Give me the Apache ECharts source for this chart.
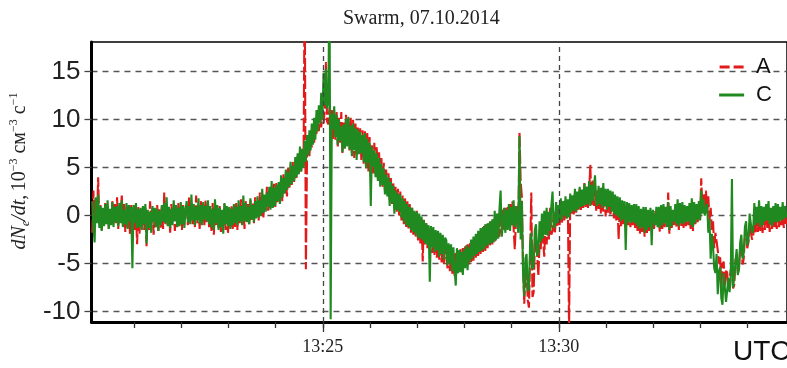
<!DOCTYPE html>
<html><head><meta charset="utf-8">
<script src="https://cdn.jsdelivr.net/npm/echarts@6/dist/echarts.min.js"></script>
<style>html,body{margin:0;padding:0;background:#fff}#c{width:787px;height:368px}</style>
</head><body><div id="c"></div>
<script>
// time grid: seconds after 13:20:00, first sample and sampling step
const T_START = 7;
const T_STEP = 1.5;
// axis extents (seconds after 13:20:00)
const X_MIN = 6, X_MAX = 890;
const Y_MIN = -11.1, Y_MAX = 18.1;
const minuteTicks = [60,120,180,240,300,360,420,480,540,600,660,720,780,840];
const labelTicks = [300, 600];
const tickLabels = {300: '13:25', 600: '13:30'};
const yTicks = [-10, -5, 0, 5, 10, 15];

// Swarm A, dNe/dt (10^-3 cm^-3 s^-1); one row = 30 s
const seriesA = [
 -1.8, 2.6, -1.2, 1.8, -0.6, 4.0, -0.9, 1.1, -1.5, 0.7, -1.1, 1.3, -0.8, 1.0, -1.4, 0.6, -1.0, 1.5, -0.7, 1.2,
 -0.8, 1.9, -1.4, 1.0, -0.6, 2.2, -1.1, 1.2, -1.7, 0.5, -1.3, 0.9, -2.0, 1.1, -0.9, 0.8, -1.5, 0.6, -3.0, 0.9,
 -1.9, 0.6, -1.2, 1.0, -1.5, 0.8, -3.2, 0.4, -1.5, 1.5, -1.0, 0.9, -2.0, 0.3, -1.2, 1.1, -1.6, 0.7, -1.3, 1.0,
 -1.4, 2.4, -0.9, 1.2, -1.0, 0.7, -1.8, 1.2, -0.7, 0.8, -1.6, 1.0, -1.2, 1.3, -0.8, 0.9, -1.5, 1.1, -1.0, 0.6,
 1.2, -1.0, 1.9, -0.4, 1.3, -0.9, 0.9, -1.2, 2.1, -0.8, 1.0, -1.4, 1.5, -0.6, 1.1, -1.0, 1.6, -0.7, 0.9, -1.2,
 0.7, -1.6, 1.3, -2.0, 0.9, -1.1, 0.5, -1.3, 1.0, -1.7, 0.6, -1.0, 1.2, -1.5, 0.8, -1.8, 0.6, -1.2, 1.0, -1.4,
 0.9, -1.2, 1.3, -1.5, 1.0, -0.8, 1.7, -0.9, 1.0, -1.4, 1.5, -0.3, 1.2, -0.9, 1.6, -0.6, 1.3, -0.8, 1.9, -0.2,
 1.6, -0.5, 2.4, 0.0, 1.9, -0.2, 2.0, 0.6, 3.0, 0.5, 2.6, 0.8, 2.9, 1.2, 3.3, 0.9, 3.4, 1.4, 3.1, 1.6,
 3.7, 1.5, 4.3, 2.3, 4.0, 2.0, 5.0, 2.9, 4.8, 3.2, 5.6, 3.5, 5.3, 3.8, 6.2, 4.4, 6.6, 4.6, 7.0, 5.2,
 25.0, -5.6, 6.4, 8.3, 6.2, 8.7, 7.1, 9.4, 7.6, 10.1, 8.5, 10.4, 8.8, 10.9, 9.2, 10.8, 9.6, 11.0, 16.0, 9.8,
 9.5, 11.3, 8.8, 11.0, 8.0, 10.6, 7.9, 10.8, 7.2, 10.2, 7.6, 10.8, 6.5, 9.7, 7.0, 10.5, 7.3, 9.9, 6.8, 10.2,
 6.5, 10.0, 6.0, 9.6, 6.4, 9.3, 6.8, 9.1, 5.8, 8.9, 5.4, 8.8, 5.0, 8.6, 4.6, 8.2, 4.0, 7.4, 4.4, 7.6,
 4.3, 7.2, 3.9, 6.6, 3.4, 6.0, 3.0, 5.5, 2.6, 4.8, 2.2, 4.4, 1.6, 3.9, 1.2, 3.5, 0.7, 3.0, 0.4, 2.8,
 0.0, 2.5, -0.5, 2.1, -0.9, 1.8, -1.2, 1.5, -1.5, 1.2, -1.8, 0.8, -2.0, 0.3, -2.3, 0.5, -2.6, 0.0, -2.9, -0.2,
 -4.8, -0.4, -3.0, -0.8, -3.4, -1.3, -3.6, -1.5, -3.9, -1.9, -4.1, -2.0, -4.4, -2.2, -4.6, -2.5, -4.9, -2.7, -5.1, -2.8,
 -3.0, -5.5, -3.3, -5.8, -3.6, -6.1, -4.0, -6.3, -3.8, -6.0, -3.7, -5.7, -3.5, -5.9, -3.4, -5.2, -3.2, -5.4, -3.0, -5.1,
 -2.9, -5.0, -2.6, -4.7, -2.3, -4.4, -2.0, -4.2, -1.7, -4.0, -1.4, -3.8, -1.1, -3.7, -0.9, -3.4, -0.8, -3.2, -0.6, -3.0,
 -0.4, -2.7, 0.0, -2.4, 0.3, -2.2, 0.5, -1.9, 0.6, -1.6, 0.8, -1.4, 0.9, -1.2, 1.2, -1.0, 1.5, -1.3, -3.5, -0.6,
 1.0, -1.0, 8.7, 3.5, 2.0, -5.0, -9.2, -6.5, -5.5, -8.8, -9.6, -4.0, 2.4, -8.5, -8.0, -3.0, -2.5, -4.2, -6.3, -3.0,
 -3.5, -0.8, -2.6, -4.3, -0.3, -3.0, -0.6, -2.5, 0.8, -2.0, -1.6, 0.4, -1.9, 0.2, -1.2, 1.0, -1.0, 0.6, -0.8, 1.2,
 -0.5, 1.5, -0.3, 1.2, -12.0, 1.8, 0.2, 1.6, 0.0, 2.4, 0.3, 2.2, 0.6, 2.8, 0.5, 2.6, 0.8, 3.4, 0.9, 3.0,
 0.8, 2.4, 5.3, 1.1, 3.8, 1.0, 3.4, 0.5, 2.6, 0.7, 2.3, 0.2, 2.9, 0.4, 2.5, -0.1, 2.2, 0.3, 2.0, 0.0,
 0.0, 2.0, -0.3, 1.7, -0.5, 1.4, -2.5, 1.2, -1.1, 1.0, -0.9, 0.9, -1.4, 0.8, -1.0, 0.7, -1.2, 0.6, -1.0, 0.8,
 -1.3, 0.5, -1.6, 0.4, -1.9, 0.2, -1.7, 0.3, -2.2, 0.4, -1.8, 0.1, -1.6, 0.3, -0.9, 0.2, -1.5, 0.5, -1.1, 0.3,
 0.4, -1.7, 0.6, -1.4, 0.8, -1.2, 0.5, -1.0, 2.4, -1.9, 0.6, -1.3, 0.2, -1.0, 0.7, -1.2, 1.1, -1.5, 0.8, -1.1,
 0.9, -1.3, 0.6, -1.1, 0.5, -1.0, 0.9, -1.4, 1.3, -1.6, 1.0, -0.9, 0.8, -0.7, 1.2, -0.4, 3.9, 0.6, 2.2, 0.8,
 2.6, 0.4, 2.0, -0.5, 0.8, -1.5, -0.6, -3.4, -1.8, -2.0, -3.6, -5.0, -4.2, -7.6, -5.1, -4.8, -7.4, -5.6, -6.0, -7.8,
 -7.7, -5.6, -5.9, -7.6, -7.2, -4.6, -4.3, -6.0, -5.4, -3.3, -3.0, -5.1, -4.5, -2.2, -1.6, -3.4, -2.8, -0.8, -0.9, -2.5,
 -2.2, -0.3, -1.9, 0.2, -1.7, 0.6, -1.6, -0.1, -1.8, 0.3, -1.5, 0.4, -1.3, 0.1, -1.7, 0.0, -1.4, 0.5, -1.2, -0.2,
 -1.4, 0.3, -1.2, 0.5, -1.0, 0.2, -1.3, 0.4, -0.9
];

// Swarm C
const seriesC = [
 1.5, -1.2, -2.8, 1.9, -0.8, 2.2, -1.3, 1.0, -1.6, 0.8, -1.1, 1.2, -0.9, 1.6, -1.4, 0.7, -1.0, 1.4, -1.2, 0.9,
 -0.7, 1.0, -1.1, 1.3, -0.8, 1.6, -1.2, 0.6, -0.9, 1.3, -1.4, 1.1, -0.6, 0.9, -5.5, 1.1, -0.8, 1.3, -1.3, 0.7,
 -1.2, 0.8, -1.5, 1.0, -0.9, 1.2, -2.9, 0.6, -1.3, 0.4, -1.8, 1.0, -0.7, 0.8, -1.2, 0.7, -1.6, 0.5, -1.0, 1.1,
 -0.6, 1.3, -0.8, 1.9, -1.1, 0.9, -1.3, 0.7, -1.0, 1.6, -0.6, 1.1, -1.2, 0.8, -1.1, 1.4, -0.9, 1.0, -1.3, 0.6,
 1.5, -0.7, 1.0, -0.9, 2.2, -0.5, 1.2, -1.0, 0.9, -0.5, 1.8, -0.8, 1.1, -1.0, 1.4, -0.4, 1.0, -0.6, 1.6, -0.9,
 1.0, -1.2, 0.7, -1.5, 1.7, -0.8, 1.1, -1.5, 0.8, -1.2, 0.6, -1.9, 1.3, -0.9, 1.0, -1.1, 0.9, -1.4, 0.7, -1.0,
 1.2, -0.8, 0.9, -1.0, 1.6, -0.6, 1.0, -1.0, 2.1, -0.6, 1.3, -0.7, 0.9, -0.9, 1.8, -0.4, 1.1, -0.7, 1.5, -0.3,
 2.0, -0.2, 1.6, 0.0, 2.8, 0.3, 2.2, 0.4, 2.4, 0.9, 3.0, 0.6, 3.6, 0.8, 2.9, 1.0, 3.2, 1.5, 3.5, 1.2,
 4.2, 1.9, 3.9, 2.3, 4.8, 2.7, 4.5, 3.0, 5.6, 3.3, 5.2, 3.6, 6.1, 4.0, 6.5, 4.3, 7.2, 4.6, 6.9, 5.0,
 7.8, 5.6, 8.4, 6.3, 8.9, 6.8, 9.6, 7.4, 10.2, 7.9, 11.0, 8.8, 11.5, 9.6, 12.8, 10.0, 14.9, 11.5, 15.3, 11.2,
 11.8, 25.0, -10.8, 10.6, 9.0, 11.4, 8.2, 10.5, 7.4, 10.0, 7.8, 9.3, 6.6, 9.5, 7.0, 10.1, 7.2, 10.3, 6.9, 9.4,
 6.2, 9.6, 6.8, 9.1, 5.8, 9.0, 6.4, 8.7, 6.5, 8.4, 5.6, 8.6, 4.9, 8.0, 5.5, 7.6, 1.0, 7.2, 5.1, 6.8,
 4.0, 6.5, 3.6, 6.0, 3.0, 5.4, 3.2, 4.9, 2.2, 4.3, 2.0, 4.0, 1.0, 3.5, 1.3, 3.1, 0.2, 2.6, 0.6, 2.3,
 0.4, 2.2, -0.2, 1.8, -0.6, 1.5, -1.0, 1.2, -1.2, 0.9, -1.5, 0.8, -1.7, 0.5, -2.0, 0.4, -2.3, 0.2, -2.4, -0.1,
 -2.6, -0.5, -2.9, -0.8, -3.1, -1.0, -6.9, -1.1, -3.3, -1.2, -3.8, -1.5, -3.6, -1.6, -4.3, -1.8, -4.0, -2.0, -4.6, -2.3,
 -2.6, -5.2, -2.9, -5.0, -3.0, -5.8, -3.3, -5.6, -7.3, -3.4, -6.0, -3.6, -5.9, -3.8, -6.2, -3.5, -5.5, -3.1, -5.7, -3.3,
 -4.8, -2.5, -4.5, -2.2, -4.2, -1.9, -4.0, -1.6, -3.8, -1.3, -3.7, -1.2, -3.5, -0.9, -3.2, -0.8, -3.0, -0.6, -2.9, -0.4,
 -2.8, 0.5, -2.6, 0.2, -2.4, 0.6, 2.6, -2.2, -2.0, 0.8, -1.8, 0.6, -1.5, 1.2, -1.6, 0.9, -1.0, 1.6, -1.2, 1.0,
 -0.5, -1.8, 8.3, -2.5, 1.5, -6.0, -8.4, -4.5, -4.0, -7.9, -7.6, -3.0, -1.8, -5.6, -5.2, -1.5, -0.9, -4.2, -3.8, -0.6,
 -2.8, 0.2, -2.4, 0.5, -2.0, 0.8, -2.1, 0.4, -1.6, 1.0, 2.5, -1.3, -1.0, 1.4, -0.8, 1.1, -0.5, 1.8, -0.4, 1.5,
 0.0, 2.0, -0.3, 1.7, -0.2, 2.3, 0.3, 2.1, 0.5, 2.8, 0.4, 2.5, 0.7, 3.0, 0.9, 2.7, 1.0, 3.3, 1.1, 3.0,
 1.2, 3.6, 1.0, 3.2, 1.5, 3.0, 4.2, 1.3, 1.0, 3.1, 1.2, 2.9, 0.8, 3.4, 1.0, 2.8, 0.6, 2.8, 0.9, 2.6,
 0.4, 2.5, 0.2, 2.2, 0.0, 2.0, -0.2, 1.9, -0.6, 1.6, -0.4, 1.5, -3.6, 1.4, -0.6, 1.3, -0.8, 1.1, -0.7, 1.2,
 -0.8, 1.2, -1.1, 1.0, -1.4, 0.7, -1.2, 0.9, -1.8, 0.9, -1.5, 0.6, -1.2, 0.8, -3.1, 0.6, 0.5, -1.0, 0.9, -1.2,
 0.9, -1.3, 1.1, -1.0, 1.2, -0.8, 0.9, -1.2, 1.4, -1.5, 1.0, -1.1, 0.6, -0.6, 1.2, -0.9, 1.7, -1.1, 1.3, -0.8,
 1.4, -0.9, 1.1, -0.7, 1.0, -0.6, 1.3, -1.0, 1.8, -1.2, 1.4, -0.8, 1.2, -0.4, 1.5, -0.5, 2.6, 0.2, 1.7, 0.0,
 -0.2, 1.2, -1.8, -0.4, -4.5, -1.9, -3.2, -5.5, -6.0, -4.0, -8.2, -5.8, -5.4, -8.6, -9.3, -6.0, -6.2, -9.0, -8.8, -6.5,
 -8.0, -6.5, 3.8, -7.5, -6.4, -4.8, -3.5, -6.2, -5.6, -2.8, -2.0, -4.5, -3.9, -1.2, -0.6, -3.1, -2.6, 0.2, 0.4, -1.8,
 -1.5, 1.3, -1.0, 0.9, -0.8, 1.6, -1.2, 1.0, -1.0, 0.9, -0.6, 1.2, -0.5, 1.5, -0.9, 0.8, -1.1, 1.0, -0.7, 1.3,
 -0.7, 1.2, -0.6, 0.9, -0.5, 1.4, -0.4, 1.0, -0.2
];

const RED = '#e21a1a';
const GREEN = '#208a20';

const toPairs = arr => arr.map((v, i) => [T_START + T_STEP * i, v]);

const chart = echarts.init(document.getElementById('c'), null, {renderer: 'canvas'});
const serif = 'Liberation Serif';
const sans = 'Liberation Sans';
chart.setOption({
  animation: false,
  backgroundColor: '#fff',
  title: {
    text: 'Swarm, 07.10.2014', left: 338, top: 4,
    textStyle: {fontFamily: serif, fontWeight: 'normal', fontSize: 20, color: '#222'}
  },
  legend: {
    orient: 'vertical', right: 10, top: 51, itemWidth: 25, itemHeight: 3, itemGap: 6,
    textStyle: {fontFamily: sans, fontSize: 22, color: '#111', padding: [0, 0, 0, 7]},
    data: [
      {name: 'A', icon: 'path://M0,0L10,0L10,3L0,3Z M14,0L24,0L24,3L14,3Z', itemStyle: {color: RED}},
      {name: 'C', icon: 'rect', itemStyle: {color: GREEN}}
    ]
  },
  grid: {left: 89, top: 42, right: -4, bottom: 46, show: true, borderColor: '#000', borderWidth: 1.5, containLabel: false},
  xAxis: [{
    type: 'value', min: X_MIN, max: X_MAX,
    axisLine: {show: true, onZero: false, lineStyle: {color: '#000', width: 3}},
    axisTick: {show: true, customValues: minuteTicks, length: 6, lineStyle: {color: '#333', width: 1.3}},
    axisLabel: {show: true, customValues: labelTicks, margin: 16, formatter: v => tickLabels[v] || '',
      fontFamily: serif, fontSize: 18, color: '#222'},
    splitLine: {show: false}
  }, {
    type: 'value', min: X_MIN, max: X_MAX, position: 'bottom',
    axisLine: {show: false, onZero: false},
    axisTick: {show: true, customValues: labelTicks, length: 10, lineStyle: {color: '#333', width: 1.3}},
    axisLabel: {show: false}, splitLine: {show: false}
  }],
  yAxis: {
    type: 'value', min: Y_MIN, max: Y_MAX,
    axisLine: {show: true, onZero: false, lineStyle: {color: '#000', width: 3}},
    axisTick: {show: true, customValues: yTicks, length: 7, lineStyle: {color: '#444', width: 1.3}},
    axisLabel: {customValues: yTicks, margin: 11, fontFamily: sans, fontSize: 26, color: '#222'},
    splitLine: {show: true, lineStyle: {color: '#555', type: [6, 5], width: 1.3}},
    name: '{it|dN}{sub|e}{it|/dt,} {n|10}{sup|−3}{n| см}{sup|−3}{n| с}{sup|−1}',
    nameLocation: 'middle', nameRotate: 90, nameGap: 50,
    nameTextStyle: {
      padding: [0, 0, 0, 22],
      rich: {
        it: {fontFamily: serif, fontStyle: 'italic', fontSize: 20, color: '#222', lineHeight: 24},
        n: {fontFamily: serif, fontSize: 20, color: '#222', lineHeight: 24},
        sub: {fontFamily: serif, fontStyle: 'italic', fontSize: 12, color: '#222', verticalAlign: 'bottom', lineHeight: 12},
        sup: {fontFamily: serif, fontSize: 12, color: '#222', verticalAlign: 'top', lineHeight: 12}
      }
    }
  },
  graphic: [{
    type: 'text', left: 733, top: 338,
    style: {text: 'UTC', fontFamily: sans, fontSize: 28, fill: '#111'}
  }],
  series: [{
    name: 'A', type: 'line', xAxisIndex: 0, symbol: 'none', showSymbol: false, clip: true,
    lineStyle: {color: RED, width: 2.1, type: [14, 3]},
    itemStyle: {color: RED},
    data: toPairs(seriesA),
    markLine: {
      silent: true, symbol: 'none', label: {show: false},
      lineStyle: {color: '#444', type: [5, 4], width: 1.3},
      data: labelTicks.map(v => ({xAxis: v}))
    }
  }, {
    name: 'C', type: 'line', xAxisIndex: 0, symbol: 'none', showSymbol: false, clip: true,
    lineStyle: {color: GREEN, width: 2.1},
    itemStyle: {color: GREEN},
    data: toPairs(seriesC)
  }]
});
</script></body></html>
